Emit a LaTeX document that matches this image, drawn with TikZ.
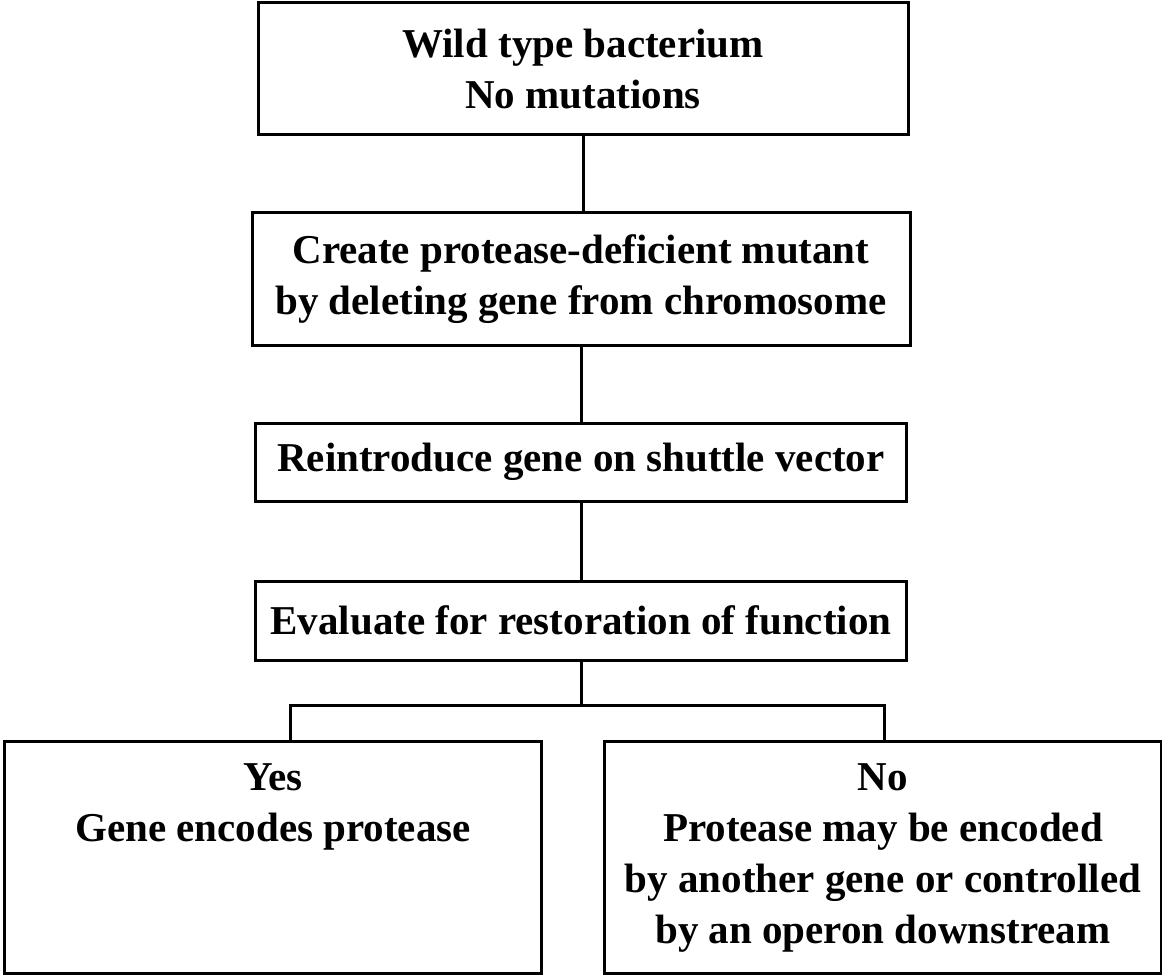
\documentclass[tikz,border=0pt]{standalone}
\usepackage{fontspec}
\setmainfont{Liberation Serif}
\usetikzlibrary{positioning, calc}

\begin{document}
\begin{tikzpicture}[
    x=1pt, y=-1pt,
    box/.style={draw, line width=3pt, align=center, inner sep=0pt, font=\bfseries\fontsize{41}{51}\selectfont},
    link/.style={line width=3pt}
]
    \useasboundingbox (0,0) rectangle (1162,976);

    \draw (583, 69) node[box, minimum width=650, minimum height=132] (wild) {Wild type bacterium\\No mutations};
    \draw (wild) ++(-2, 210) node[box, minimum width=658, minimum height=132] (mutant) {Create protease-deficient mutant\\by deleting gene from chromosome};
    \draw (mutant) ++(0, 183) node[box, minimum width=651, minimum height=78] (reintro) {Reintroduce gene on shuttle vector};
    \draw (reintro) ++(0, 158.5) node[box, minimum width=651, minimum height=79] (eval) {Evaluate for restoration of function};

    \draw (3, 740) node[box, anchor=north west, minimum width=537, minimum height=232] (yes) {Yes\\Gene encodes protease\\\mbox{}\\\vphantom{y}};
    \draw (603, 740) node[box, anchor=north west, minimum width=557, minimum height=232] (no) {No\\Protease may be encoded\\by another gene or controlled\\by an operon downstream};

    % connectors
    \draw[link] (wild.south) -- (wild.south|-mutant.north);
    \draw[link] (mutant.south) -- (mutant.south|-reintro.north);
    \draw[link] (reintro.south) -- (reintro.south|-eval.north);

    \coordinate (split) at ($(eval.south) + (0, 44)$);
    \coordinate (yes in) at ($(yes.north) + (17, 0)$);
    \coordinate (no in) at ($(no.north) + (1, 0)$);
    \draw[link] (eval.south) -- (split);
    \draw[link] (yes in) |- (split) -| (no in);
\end{tikzpicture}
\end{document}
